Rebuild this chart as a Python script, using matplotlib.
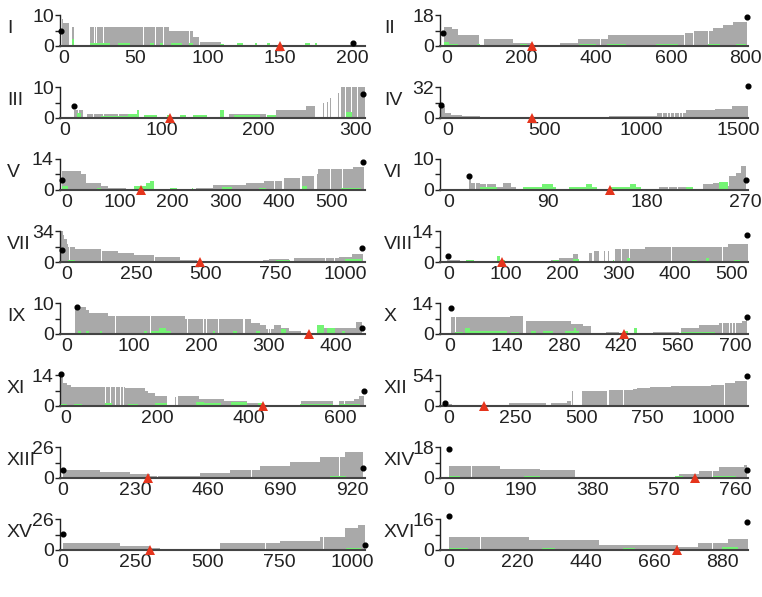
import matplotlib
matplotlib.use("Agg")
import matplotlib.pyplot as plt

plt.rcParams['font.family'] = ['Liberation Sans', 'DejaVu Sans']

GRAY = '#a9a9a9'
GREEN = '#74f474'
RED = '#e5341c'

# ---------------- data (segments: start, end, height) ----------------
labels = ['I', 'II', 'III', 'IV', 'V', 'VI', 'VII', 'VIII',
          'IX', 'X', 'XI', 'XII', 'XIII', 'XIV', 'XV', 'XVI']

ymax = [10, 18, 10, 32, 14, 10, 34, 14, 10, 14, 14, 54, 26, 18, 26, 16]

xticks = [[0, 50, 100, 150, 200], [0, 200, 400, 600, 800], [0, 100, 200, 300],
          [0, 500, 1000, 1500], [0, 100, 200, 300, 400, 500], [0, 90, 180, 270],
          [0, 250, 500, 750, 1000], [0, 100, 200, 300, 400, 500],
          [0, 100, 200, 300, 400], [0, 140, 280, 420, 560, 700], [0, 200, 400, 600],
          [0, 250, 500, 750, 1000], [0, 230, 460, 690, 920], [0, 190, 380, 570, 760],
          [0, 250, 500, 750, 1000], [0, 220, 440, 660, 880]]

xlims = [(-2.3, 209), (-18, 806), (-5, 310), (-41, 1552), (-12, 563), (-7.5, 272),
         (-24, 1071), (-16, 530), (-10, 444), (-24, 732), (-12, 655), (-34, 1130),
         (-10, 961), (-24, 793), (-10, 1045), (-29, 963)]

red_pos = [150, 228, 109, 435, 140, 147, 477, 94, 360, 428, 431, 131, 270, 653, 301, 733]

gray_I = [(-1, 0, 8.6), (0, 4, 7.3), (6, 7.5, 6.2), (18.5, 73, 6.2), (73, 90, 4.9),
          (90, 94, 3.0), (95, 109, 1.3)]
gray_II = [(-8, 13, 11.3), (13, 31, 10), (31, 87, 6.2), (100, 178, 4), (178, 196, 2),
           (196, 228, 1.5), (228, 260, 0.7), (267, 303, 0.5), (303, 352, 2), (352, 410, 4),
           (414, 432, 4), (432, 628, 6.2), (628, 637, 6.2), (637, 659, 7.4), (659, 713, 8.8),
           (713, 740, 10.4), (740, 766, 12), (766, 802, 13.8)]
gray_III = [(9.5, 18.7, 2.6), (23, 77, 1.2), (170, 208, 1.2), (218, 249, 2.6), (249, 258, 3.8),
            (262, 263, 4.1), (266.5, 267.5, 4.8), (270.5, 271.5, 5.3), (274, 275, 6.5),
            (278.5, 279.5, 7.6), (282, 283, 8.2), (285, 310, 10)]
gray_IV = [(-35, -17, 12), (-17, 17, 4.8), (17, 75, 3.2), (75, 167, 1.6), (167, 500, 1.0),
           (500, 833, 0.6), (833, 1083, 2.2), (1083, 1233, 4.8), (1233, 1383, 8),
           (1383, 1467, 9.6), (1467, 1550, 12)]
gray_V = [(-9, 28, 8.4), (28, 37, 7), (37, 65, 3.2), (65, 78, 1.8), (78, 112, 1.1),
          (128, 134, 1.5), (245, 276, 1.1), (276, 338, 2.1), (338, 373, 3.1), (373, 406, 4.2),
          (410, 441, 5.3), (444, 466, 6.3), (472, 475, 7), (475, 540, 9.5), (540, 562, 10.5)]
gray_VI = [(19, 21, 3.4), (21, 28.7, 2.3), (28.7, 43.7, 2), (43.7, 49.8, 1.1), (49.8, 57.3, 2.1),
           (57.3, 61.8, 1), (191, 216, 1), (231, 240, 2), (240, 249, 2.1), (249, 255, 1.2),
           (255, 261, 4.4), (261, 266, 5.4), (266, 270, 7.8)]
gray_VII = [(-20, -14, 34), (-14, -8, 30), (-8, 0, 25), (0, 6, 20), (6, 30, 17), (30, 124, 14.2),
            (124, 183, 12), (183, 243, 10), (243, 314, 8), (314, 408, 5.3), (408, 467, 2.5),
            (467, 598, 0.8), (598, 704, 0.4), (704, 728, 2.5), (728, 799, 3.6), (817, 976, 4.3),
            (976, 1024, 6), (1024, 1065, 8.5)]
gray_VIII = [(-4, 19, 0.8), (181, 195, 0.8), (195, 219, 1.8), (219, 228, 3.8), (248, 254, 4),
             (257, 266, 4.9), (275, 277, 4.9), (282, 284, 4.9), (295, 348, 5.8), (348, 495, 6.9),
             (495, 530, 8.1)]
gray_IX = [(13, 29, 8.7), (29, 33, 7.8), (33, 62, 6.7), (62, 176, 5.7), (176, 262, 4.8),
           (266, 275, 4.8), (275, 288, 3.6), (288, 297, 2.9), (297, 309, 1.6), (309, 319, 2.9),
           (319, 331, 2), (331, 348, 1.1), (375, 431, 1.8), (431, 440, 3.9)]
gray_X = [(2, 147, 7.7), (147, 179, 8), (188, 298, 6), (298, 326, 4.7), (326, 347, 3.8),
          (383, 416, 0.9), (416, 449, 0.6), (449, 481, 0.5), (498, 563, 0.8), (567, 612, 2.9),
          (612, 661, 4), (661, 718, 4.9), (718, 726, 6), (726, 730, 7.2)]
gray_XI = [(-12, -6, 13.7), (-6, 4, 10.4), (4, 12, 9.7), (12, 130, 8.6), (130, 174, 8),
           (174, 181, 6.6), (181, 195, 5.7), (195, 221, 4.3), (239, 241, 4), (246, 293, 4.3),
           (293, 347, 3.3), (347, 397, 2.3), (397, 433, 1.4), (440, 512, 0.6), (516, 585, 2.1),
           (599, 632, 2.1), (632, 642, 3), (642, 653, 4.3)]
gray_XII = [(-27, 10, 4.2), (10, 41, 2), (41, 179, 0.5), (179, 228, 2.6), (228, 366, 4.5),
            (385, 447, 5.2), (447, 462, 8), (466, 470, 26), (503, 597, 26.7), (603, 697, 27.8),
            (697, 709, 29), (709, 760, 31), (760, 840, 32.5), (840, 900, 34), (900, 990, 35.7),
            (990, 1040, 37), (1040, 1080, 40), (1080, 1127, 43.5)]
gray_XIII = [(0, 118, 6.7), (118, 213, 5), (213, 277, 3.4), (277, 436, 1.7), (436, 531, 4.2),
             (531, 627, 6.7), (627, 723, 10), (723, 818, 13.4), (818, 898, 17.6), (898, 955, 21.8)]
gray_XIV = [(0, 135, 7), (135, 241, 5.2), (241, 333, 4.6), (333, 611, 0.6), (611, 664, 2.3),
            (664, 717, 4), (717, 783, 6.4), (783, 791, 7.5)]
gray_XV = [(0, 197, 5.9), (197, 301, 3.4), (301, 336, 1.5), (336, 543, 0.5), (543, 751, 5.9),
           (751, 889, 7.6), (889, 976, 11), (976, 1020, 18.5), (1020, 1045, 21)]
gray_XVI = [(0, 259, 6.7), (259, 483, 5.2), (483, 739, 2.6), (739, 803, 1.5), (803, 899, 3.6),
            (899, 963, 5.7)]

gaps_I = [21.5, 23, 28, 55.5, 63.6, 69.4, 87.5]
gaps_II = [410, 412, 637, 660, 700]
gaps_III = [14, 30, 40, 55, 290, 296, 302]
gaps_IV = [1110, 1135, 1150, 1170, 1200, 1215]
gaps_V = [350, 392, 498, 520]
gaps_VI = [25, 35, 200, 208]
gaps_VII = [10, 124, 314, 800, 930, 960]
gaps_VIII = [305, 320, 390, 395, 475, 485]
gaps_IX = [73, 115, 125, 180, 185, 203, 208, 226, 300, 304]
gaps_X = [15, 180, 670, 678, 686, 694, 702]
gaps_XI = [88, 98, 109, 120, 127, 610]
gaps_XII = [597, 660, 665, 960, 1040]
gaps_XIII = [300, 600, 880]
gaps_XIV = [60, 700]
gaps_XV = [700, 900]
gaps_XVI = [100, 850]

green_I = [(-1, 0.5, 0.4), (6, 7.5, 2.2), (18.5, 32, 1.0), (38, 46, 1.0), (60, 63, 1.0),
           (67, 69, 1.0), (74.5, 82, 1.0), (87.4, 90, 1.0), (108.7, 111, 0.5), (120, 124.5, 1.0),
           (133, 134, 1.0), (141, 143, 1.0), (167.6, 171, 1.0), (174.5, 175.7, 1.0)]
green_II = [(-8, 5, 2.5), (5, 30, 1.0), (80, 90, 1.0), (125, 195, 0.8), (195, 215, 1.2),
            (285, 320, 0.8), (355, 400, 1.0), (430, 480, 1.2), (560, 620, 1.0), (630, 650, 0.8),
            (700, 730, 1.2), (775, 800, 1.2)]
green_III = [(13, 17, 1.5), (37, 65, 0.5), (65, 75, 1.2), (75, 77, 2.5), (82, 95, 1.0),
             (105, 108, 1.0), (119, 125, 1.0), (132, 147, 1.0), (160, 164, 2.5), (175, 202, 1.0),
             (209, 218, 1.0), (290, 297, 2.0)]
green_IV = [(-15, 15, 1.5), (60, 65, 1.0), (180, 190, 1.0), (400, 410, 1.0), (520, 530, 1.0),
            (600, 610, 1.0), (700, 720, 1.0), (830, 900, 1.0), (980, 1000, 1.0), (1250, 1270, 1.0),
            (1450, 1470, 1.0)]
green_V = [(-8, 4, 2.0), (58, 65, 1.0), (128, 150, 2.0), (150, 158, 3.0), (158, 166, 4.0),
           (196, 208, 1.0), (236, 239, 1.0), (294, 313, 1.5), (364, 376, 1.0), (444, 453, 2.0),
           (518, 555, 1.0)]
green_VI = [(29, 44, 1.0), (68, 98, 1.0), (85, 95, 2.0), (110, 135, 1.0), (125, 130, 2.0),
            (146, 155, 1.0), (155, 175, 1.0), (165, 170, 2.0), (216, 222, 1.0), (246, 254, 2.5)]
green_VII = [(6, 30, 2.0), (160, 200, 1.5), (350, 385, 1.5), (600, 612, 1.5), (750, 800, 2.0),
             (1000, 1060, 3.0)]
green_VIII = [(30, 45, 1.0), (85, 90, 2.5), (90, 100, 1.0), (185, 195, 1.0), (219, 230, 1.5),
              (290, 292, 1.0), (315, 320, 2.0), (430, 440, 1.0), (455, 460, 2.0), (505, 515, 1.0)]
green_IX = [(17, 22, 1.0), (29, 33, 1.0), (49, 52, 1.0), (115, 120, 1.0), (125, 155, 1.0),
            (138, 148, 2.0), (217, 221, 1.0), (247, 254, 1.0), (282, 287, 1.0), (319, 326, 1.5),
            (373, 383, 3.0), (388, 400, 2.0), (410, 414, 1.0)]
green_X = [(12, 33, 1.0), (37, 49, 2.5), (49, 140, 1.2), (150, 170, 1.0), (200, 212, 1.5),
           (228, 253, 1.5), (282, 318, 1.5), (305, 310, 2.5), (425, 438, 1.5), (452, 460, 2.5),
           (498, 563, 0.5), (567, 650, 1.0), (675, 690, 0.5)]
green_XI = [(-10, 4, 1.0), (19, 37, 1.0), (87, 101, 1.5), (137, 159, 1.0), (195, 221, 1.5),
            (285, 303, 2.0), (303, 339, 1.5), (361, 397, 2.0), (422, 433, 1.5), (512, 585, 1.0),
            (599, 645, 1.0)]
green_XII = [(700, 712, 0.8), (990, 1000, 0.8), (1080, 1090, 0.8)]
green_XIII = [(0, 100, 0.8), (300, 320, 1.0), (500, 560, 1.0), (700, 760, 1.0), (850, 900, 1.5)]
green_XIV = [(0, 30, 1.0), (200, 240, 1.0), (600, 620, 1.0), (700, 760, 1.0)]
green_XV = [(0, 60, 1.0), (400, 440, 1.0), (800, 850, 1.0), (980, 1030, 1.5)]
green_XVI = [(0, 60, 1.0), (300, 340, 1.0), (560, 600, 1.0), (880, 930, 1.5)]

dots_I = [(-1.6, 4.8), (200.7, 1.1)]
dots_II = [(-9, 7.4), (802, 16.7)]
dots_III = [(9.5, 3.8), (307.5, 7.9)]
dots_IV = [(-35, 13.8), (1550, 32.6)]
dots_V = [(-8, 4.3), (560, 12.6)]
dots_VI = [(19, 4.6), (270, 3.2)]
dots_VII = [(-18, 13.5), (1061, 15.8)]
dots_VIII = [(-1, 2.9), (528, 12.2)]
dots_IX = [(14.7, 8.7), (440, 1.9)]
dots_X = [(2.4, 11.8), (730, 7.9)]
dots_XI = [(-10, 14.3), (653, 6.6)]
dots_XII = [(-15, 5.2), (1127, 53)]
dots_XIII = [(0, 6.7), (955, 8.4)]
dots_XIV = [(0, 17), (791, 4.6)]
dots_XV = [(0, 13.4), (1045, 4.5)]
dots_XVI = [(0, 17.5), (960, 14.4)]

grays = [gray_I, gray_II, gray_III, gray_IV, gray_V, gray_VI, gray_VII, gray_VIII,
         gray_IX, gray_X, gray_XI, gray_XII, gray_XIII, gray_XIV, gray_XV, gray_XVI]
gapss = [gaps_I, gaps_II, gaps_III, gaps_IV, gaps_V, gaps_VI, gaps_VII, gaps_VIII,
         gaps_IX, gaps_X, gaps_XI, gaps_XII, gaps_XIII, gaps_XIV, gaps_XV, gaps_XVI]
greens = [green_I, green_II, green_III, green_IV, green_V, green_VI, green_VII, green_VIII,
          green_IX, green_X, green_XI, green_XII, green_XIII, green_XIV, green_XV, green_XVI]
dotss = [dots_I, dots_II, dots_III, dots_IV, dots_V, dots_VI, dots_VII, dots_VIII,
         dots_IX, dots_X, dots_XI, dots_XII, dots_XIII, dots_XIV, dots_XV, dots_XVI]

# ---------------- layout ----------------
W, H = 762, 597
fig = plt.figure(figsize=(W / 100, H / 100), dpi=100)

col_left = [60, 440]
col_right = [365, 748]
axis_h = 31
row_zero = [46 + 72 * r for r in range(8)]
label_x = [7, 384]

for i in range(16):
    r, c = i // 2, i % 2
    x0, x1 = col_left[c], col_right[c]
    yb = row_zero[r]
    ax = fig.add_axes([x0 / W, 1 - yb / H, (x1 - x0) / W, axis_h / H])
    xl = xlims[i]
    ym = ymax[i]
    span = xl[1] - xl[0]

    g = grays[i]
    ax.bar([s[0] for s in g], [s[2] for s in g], width=[s[1] - s[0] for s in g],
           align='edge', color=GRAY, linewidth=0, zorder=1)
    gw = span / (x1 - x0) * 0.9
    gp = gapss[i]
    ax.bar(gp, [ym * 1.2] * len(gp), width=gw, align='center', color='white',
           linewidth=0, zorder=2)
    gr = greens[i]
    ax.bar([s[0] for s in gr], [s[2] for s in gr], width=[s[1] - s[0] for s in gr],
           align='edge', color=GREEN, linewidth=0, zorder=3)
    d = dotss[i]
    ax.plot([p[0] for p in d], [p[1] for p in d], 'o', color='black', ms=3.4,
            clip_on=False, zorder=6)
    ax.plot([red_pos[i]], [0], '^', color=RED, ms=6.5, clip_on=False, zorder=7,
            markeredgewidth=0)

    ax.set_xlim(*xl)
    ax.set_ylim(0, ym)
    ax.set_xticks(xticks[i])
    ax.set_xticklabels([str(t) for t in xticks[i]])
    ax.set_yticks([0, ym / 2, ym])
    ax.set_yticklabels(['0', '', str(ym)])
    ax.tick_params(axis='x', length=0, pad=3, labelsize=14, colors='#222222')
    ax.tick_params(axis='y', length=3.5, width=1, pad=1, labelsize=14, colors='#222222')
    for sp in ['top', 'right']:
        ax.spines[sp].set_visible(False)
    ax.spines['left'].set_color('#222222')
    ax.spines['left'].set_linewidth(1.0)
    ax.spines['bottom'].set_color('#444444')
    ax.spines['bottom'].set_linewidth(1.5)
    ax.spines['bottom'].set_zorder(5)
    ax.patch.set_alpha(0)

    fig.text(label_x[c] / W, 1 - (yb - 13) / H, labels[i], fontsize=14,
             ha='left', va='baseline', color='#222222')

fig.savefig('out.png', dpi=100)
